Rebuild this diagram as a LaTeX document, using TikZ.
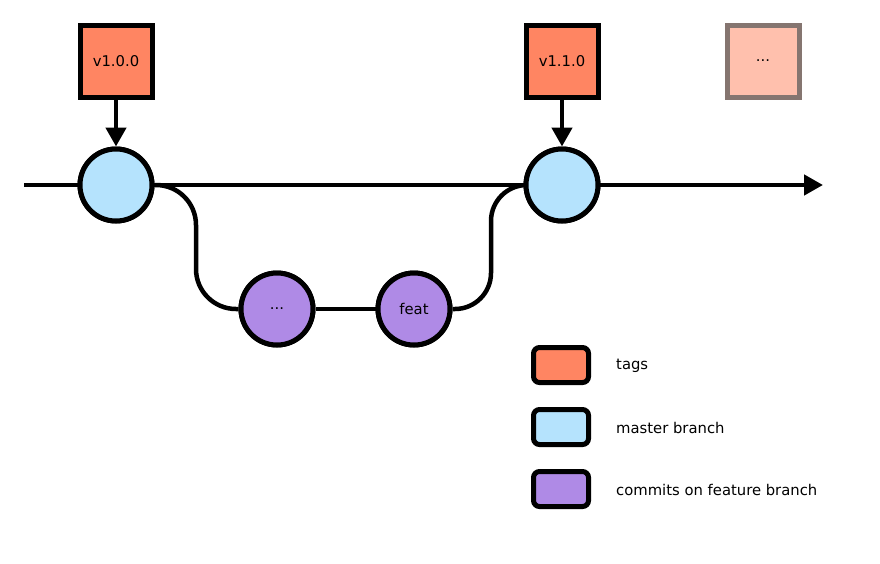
\documentclass[tikz,border=0pt]{standalone}
\usepackage{fontspec}
\setmainfont{DejaVu Sans}
\usetikzlibrary{arrows.meta}
\definecolor{tagc}{HTML}{FF8562}
\definecolor{ghostc}{HTML}{FFC0AD}
\definecolor{ghostb}{HTML}{857570}
\definecolor{masterc}{HTML}{B5E3FD}
\definecolor{featc}{HTML}{AF8AE6}
\tikzset{
  every node/.style={font=\fontsize{14.8}{17}\selectfont, text=black},
  tagbox/.style={draw=black, line width=5pt, fill=tagc, minimum size=72pt, inner sep=0pt},
  ghostbox/.style={draw=ghostb, line width=5pt, fill=ghostc, minimum size=72pt, inner sep=0pt},
  mcommit/.style={circle, draw=black, line width=5pt, fill=masterc, minimum size=72pt, inner sep=0pt},
  fcommit/.style={circle, draw=black, line width=5pt, fill=featc, minimum size=72pt, inner sep=0pt},
  legbox/.style={draw=black, line width=5pt, rounded corners=6pt, minimum width=55pt, minimum height=35pt, inner sep=0pt},
  legtext/.style={anchor=west, inner sep=0pt},
  conn/.style={draw=black, line width=4.5pt},
  tip/.style={-{Triangle[length=19pt,width=20pt]}}
}
\begin{document}
\begin{tikzpicture}[x=1pt,y=-1pt]
\useasboundingbox (0,0) rectangle (880,563);
% main line
\coordinate (start) at (24,185);
\coordinate (end) at (823,185);
\draw[conn, tip] (start) -- (end);
% branch corners
\coordinate (bl) at (196,309);
\coordinate (br) at (491,185);
% commits
\node[mcommit] (c1) at (116,185) {};
\node[mcommit] (c2) at (562,185) {};
\node[fcommit] (f1) at (277,309) {};
\node[fcommit] (f2) at (414,309) {};
\draw[conn] (f1) -- (f2);
\draw[conn, rounded corners=40pt] (c1.east) -| (bl) -- (f1.west);
\draw[conn, rounded corners=36pt] (f2.east) -| (br) -- (c2.west);
\node[fcommit] at (f1) {...};
\node[fcommit] at (f2) {feat};
\node[mcommit] at (c1) {};
\node[mcommit] at (c2) {};
% tags
\node[tagbox] (t1) at (116,61) {v1.0.0};
\node[tagbox] (t2) at (562,61) {v1.1.0};
\node[ghostbox] (t3) at (763,61) {...};
\draw[conn, tip] (t1.south) -- (c1.north);
\draw[conn, tip] (t2.south) -- (c2.north);
% legend
\node[legbox, fill=tagc] (l1) at (561,365) {};
\node[legbox, fill=masterc] (l2) at (561,427) {};
\node[legbox, fill=featc] (l3) at (561,489) {};
\node[legtext] (lt1) at (616,366) {tags};
\node[legtext] (lt2) at (616,428) {master branch};
\node[legtext] (lt3) at (616,490) {commits on feature branch};
\end{tikzpicture}
\end{document}
